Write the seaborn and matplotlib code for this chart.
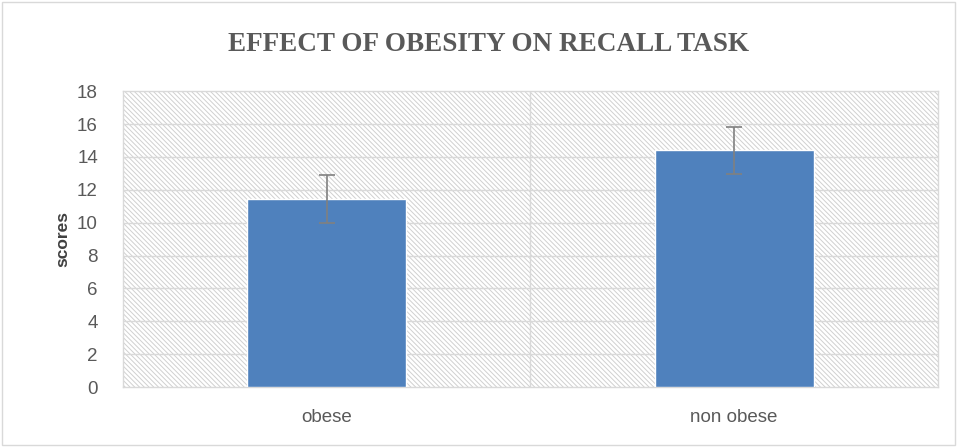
import pandas as pd
import seaborn as sns
import matplotlib.pyplot as plt
from matplotlib.patches import Rectangle

groups = ["obese", "non obese"]
scores = [11.45, 14.4]
errors = [1.45, 1.45]


def main():
    sns.set_theme(style="white")
    plt.rcParams['font.family'] = ['Liberation Sans', 'DejaVu Sans']
    plt.rcParams['hatch.color'] = '#d0d0d0'
    plt.rcParams['hatch.linewidth'] = 0.7

    df = pd.DataFrame({"group": groups, "score": scores})

    fig = plt.figure(figsize=(9.57, 4.47), dpi=100)
    ax = fig.add_axes([0.1285, 0.134, 0.8515, 0.662])

    # hatched plot area like the excel chart
    ax.add_patch(Rectangle((0, 0), 1, 1, transform=ax.transAxes, facecolor='white',
                           edgecolor='#d0d0d0', hatch='\\' * 7, lw=0, zorder=0))

    sns.barplot(data=df, x="group", y="score", color="#4f81bd", width=0.39,
                errorbar=None, saturation=1, ax=ax, zorder=3)
    ax.errorbar(range(len(groups)), scores, yerr=errors, fmt='none', ecolor='#808080',
                elinewidth=1.2, capsize=6, capthick=1.2, zorder=4)

    ax.set_ylim(0, 18)
    ax.set_yticks(range(0, 19, 2))
    ax.set_xlim(-0.5, 1.5)
    ax.axvline(0.5, color='#d9d9d9', lw=1.0, zorder=1)
    for y in range(2, 18, 2):
        ax.axhline(y, color='#d9d9d9', lw=1.0, zorder=1)
    for s in ax.spines.values():
        s.set_color('#d9d9d9')
        s.set_linewidth(1.0)

    ax.tick_params(axis='both', length=0, labelsize=13.5, labelcolor='#595959')
    ax.tick_params(axis='y', pad=18)
    ax.tick_params(axis='x', pad=16)
    ax.set_xlabel("")
    ax.set_ylabel("scores", fontsize=12.5, fontweight='bold', color='#404040', labelpad=5)

    fig.text(0.51, 0.9, "EFFECT OF OBESITY ON RECALL TASK", ha='center', va='center',
             fontsize=19.5, fontweight='bold', color='#595959', family='Liberation Serif')

    fig.patches.append(Rectangle((0.002, 0.004), 0.996, 0.992, transform=fig.transFigure,
                                 fill=False, edgecolor='#d9d9d9', lw=1.0))

    fig.savefig("out.png", dpi=100)


if __name__ == "__main__":
    main()
